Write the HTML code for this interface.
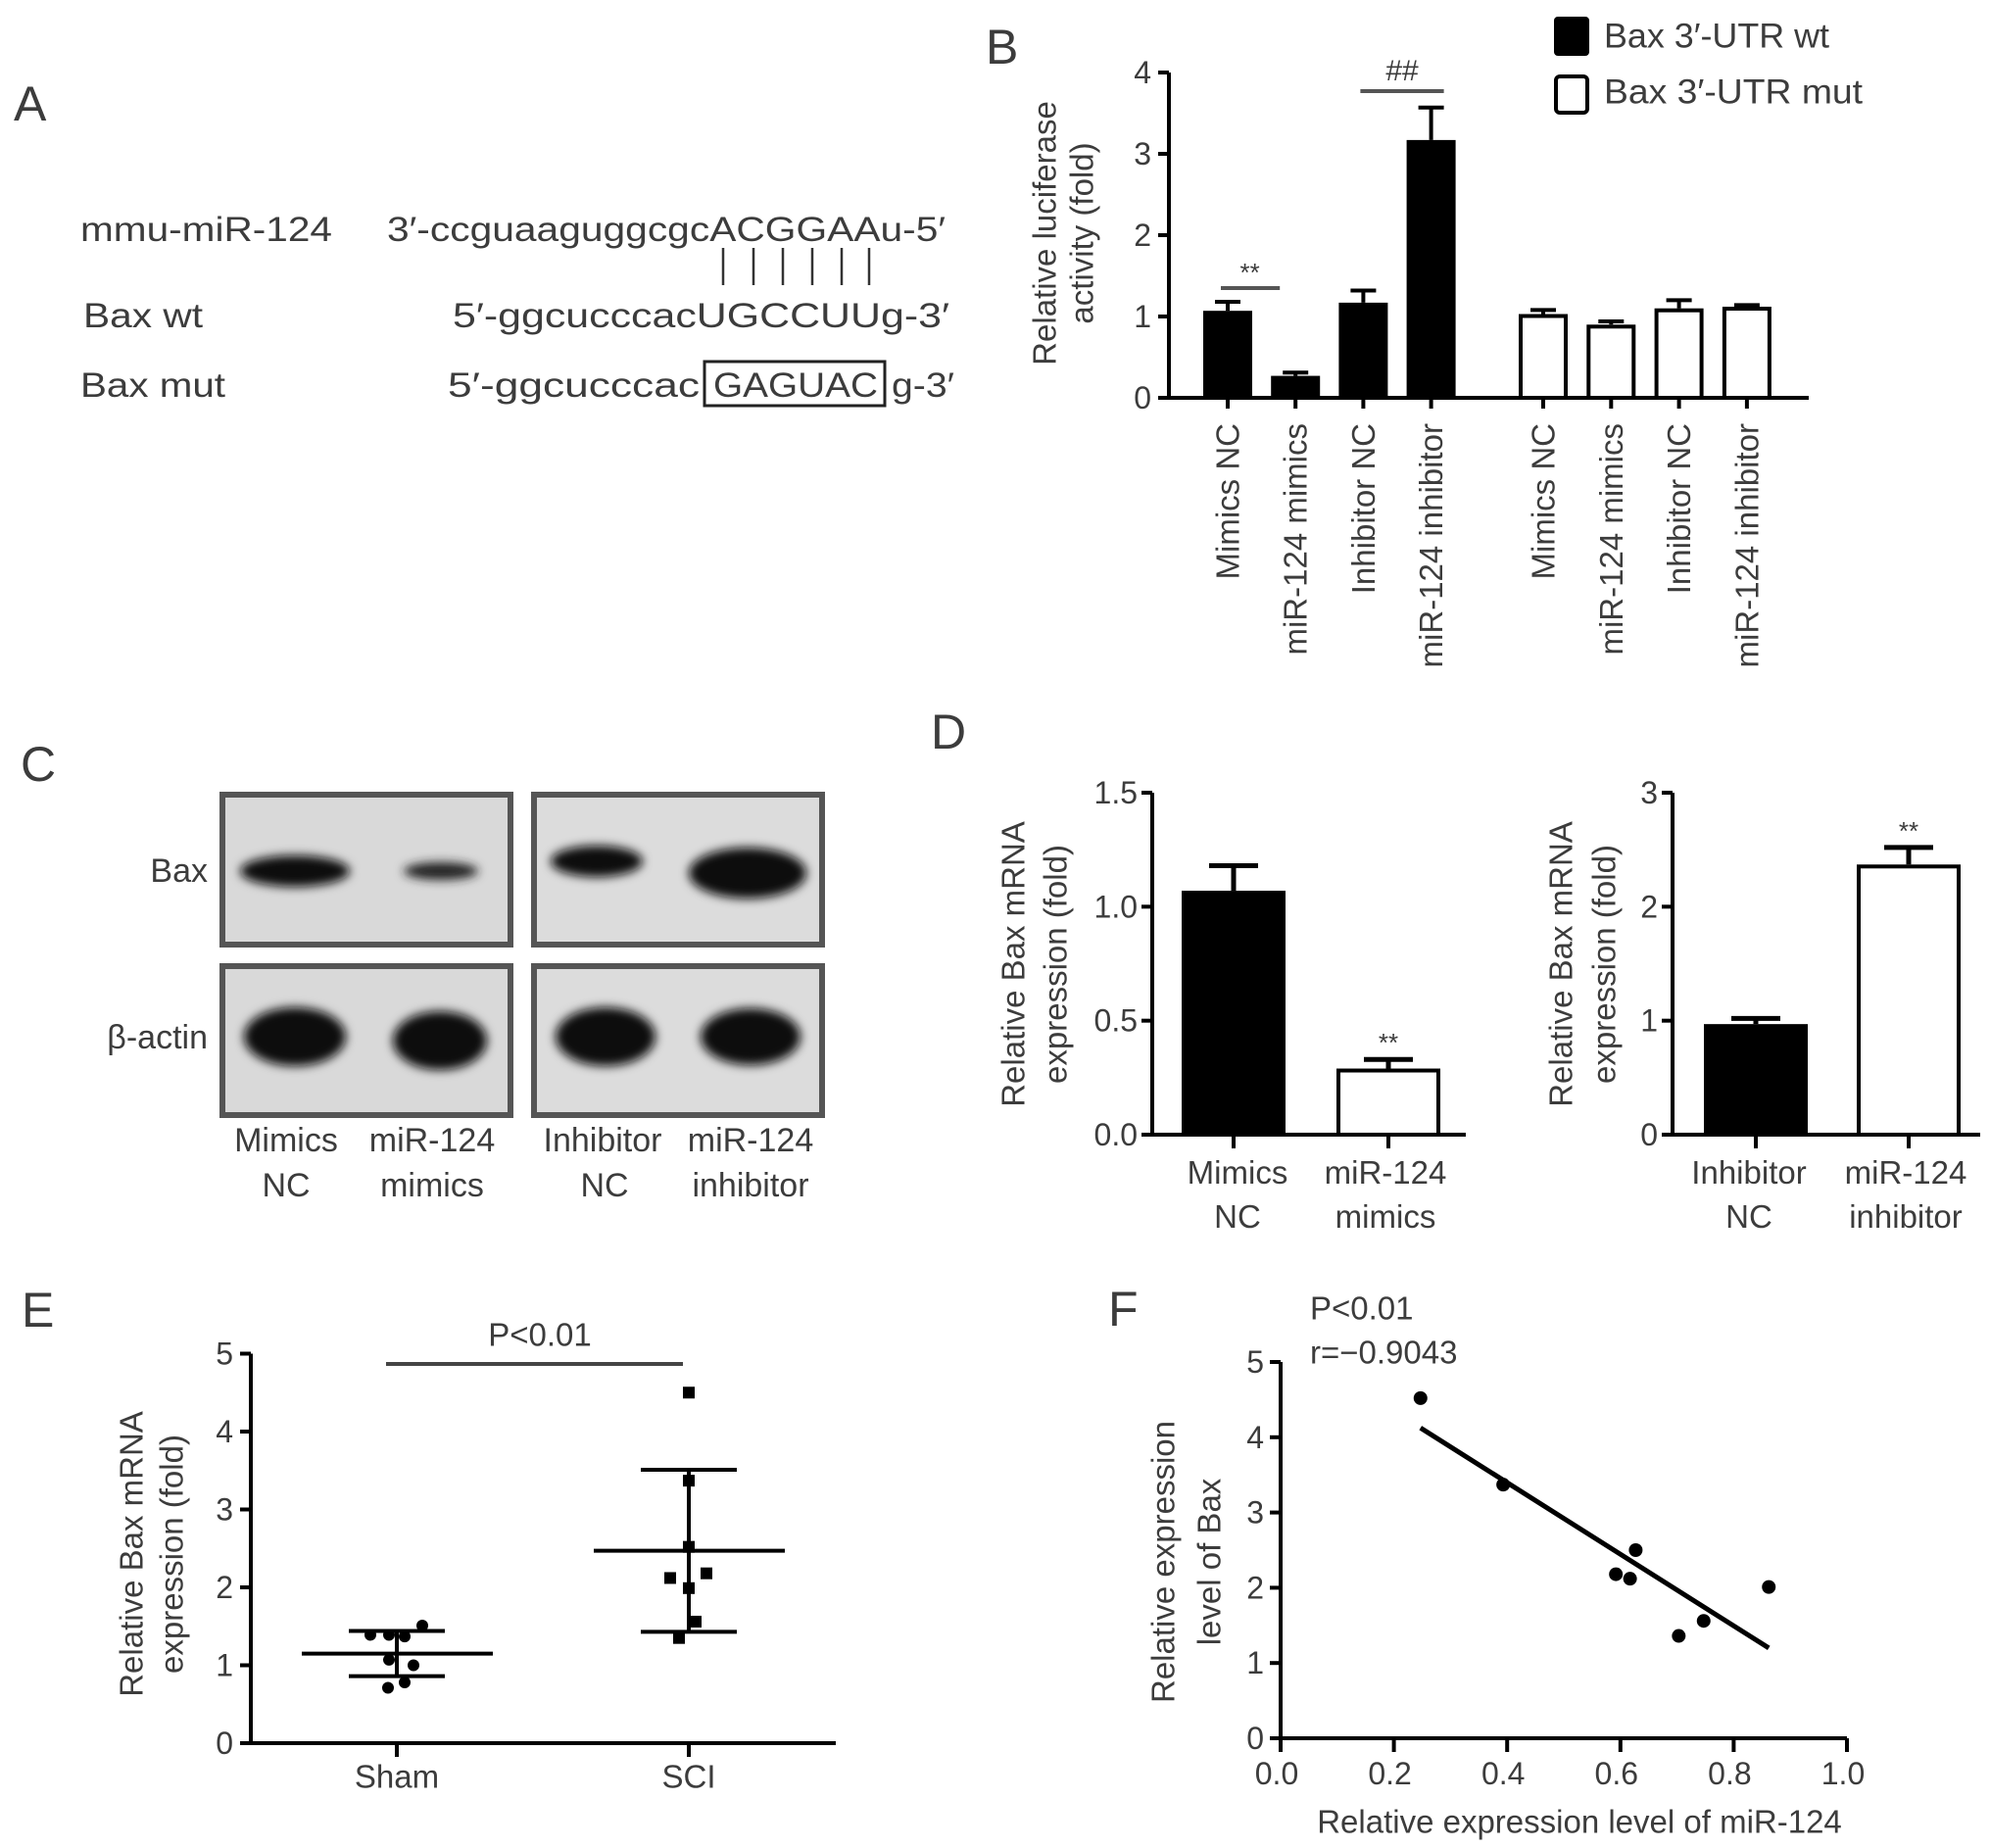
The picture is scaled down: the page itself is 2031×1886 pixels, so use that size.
<!DOCTYPE html>
<html><head><meta charset="utf-8"><style>
html,body{margin:0;padding:0;background:#fff;}
svg{display:block;font-family:"Liberation Sans",sans-serif;}
.t{fill:#3c3c3c;}
</style></head><body>
<svg id="fig" width="2031" height="1886" viewBox="0 0 2031 1886">
<defs>
<filter id="blur" x="-30%" y="-60%" width="160%" height="220%"><feGaussianBlur stdDeviation="5"/></filter>
</defs>
<!-- Panel A -->
<g>
<text class="t" x="14" y="123" font-size="50">A</text>
<text class="t" x="82" y="246" font-size="35" textLength="257" lengthAdjust="spacingAndGlyphs">mmu-miR-124</text>
<text class="t" x="395" y="246" font-size="35" textLength="570" lengthAdjust="spacingAndGlyphs">3′-ccguaaguggcgcACGGAAu-5′</text>
<g stroke="#333" stroke-width="2.5">
<line x1="738" y1="253" x2="738" y2="291"/><line x1="769" y1="253" x2="769" y2="291"/><line x1="799" y1="253" x2="799" y2="291"/><line x1="829" y1="253" x2="829" y2="291"/><line x1="859" y1="253" x2="859" y2="291"/><line x1="887" y1="253" x2="887" y2="291"/>
</g>
<text class="t" x="85" y="334" font-size="35" textLength="122" lengthAdjust="spacingAndGlyphs">Bax wt</text>
<text class="t" x="462" y="334" font-size="35" textLength="507" lengthAdjust="spacingAndGlyphs">5′-ggcucccacUGCCUUg-3′</text>
<text class="t" x="82" y="405" font-size="35" textLength="148" lengthAdjust="spacingAndGlyphs">Bax mut</text>
<text class="t" x="457" y="405" font-size="35" textLength="257" lengthAdjust="spacingAndGlyphs">5′-ggcucccac</text>
<rect x="719" y="369" width="184" height="45" fill="none" stroke="#222" stroke-width="3"/>
<text class="t" x="728" y="405" font-size="35" textLength="168" lengthAdjust="spacingAndGlyphs">GAGUAC</text>
<text class="t" x="910" y="405" font-size="35" textLength="64" lengthAdjust="spacingAndGlyphs">g-3′</text>
</g>
<text class="t" x="1006" y="65" font-size="50">B</text>
<g id="chartB"></g>
<!-- Panel C -->
<g>
<text class="t" x="21" y="797" font-size="50">C</text>
<text class="t" x="212" y="889" font-size="34" text-anchor="end" dominant-baseline="central">Bax</text>
<text class="t" x="212" y="1059" font-size="34" text-anchor="end" dominant-baseline="central">β-actin</text>
<g>
<rect x="227" y="811" width="294" height="153" fill="#d9d9d9" stroke="#555" stroke-width="6"/>
<ellipse cx="301" cy="889" rx="56" ry="16" fill="#111" filter="url(#blur)"/>
<ellipse cx="450" cy="889" rx="38" ry="9" fill="#222" filter="url(#blur)"/>
</g>
<g>
<rect x="545" y="811" width="294" height="153" fill="#dcdcdc" stroke="#555" stroke-width="6"/>
<ellipse cx="609" cy="879" rx="47" ry="16" fill="#111" filter="url(#blur)"/>
<ellipse cx="763" cy="891" rx="60" ry="26" fill="#0c0c0c" filter="url(#blur)"/>
</g>
<g>
<rect x="227" y="986" width="294" height="152" fill="#d9d9d9" stroke="#555" stroke-width="6"/>
<ellipse cx="301" cy="1058" rx="52" ry="30" fill="#0c0c0c" filter="url(#blur)"/>
<ellipse cx="449" cy="1062" rx="48" ry="30" fill="#0c0c0c" filter="url(#blur)"/>
</g>
<g>
<rect x="545" y="986" width="294" height="152" fill="#dcdcdc" stroke="#555" stroke-width="6"/>
<ellipse cx="618" cy="1058" rx="51" ry="30" fill="#0c0c0c" filter="url(#blur)"/>
<ellipse cx="766" cy="1058" rx="51" ry="29" fill="#0c0c0c" filter="url(#blur)"/>
</g>
<g font-size="34" text-anchor="middle" class="t">
<text x="292" y="1175">Mimics</text><text x="292" y="1221">NC</text>
<text x="441" y="1175">miR-124</text><text x="441" y="1221">mimics</text>
<text x="615" y="1175">Inhibitor</text><text x="617" y="1221">NC</text>
<text x="766" y="1175">miR-124</text><text x="766" y="1221">inhibitor</text>
</g>
</g>
<text class="t" x="950" y="764" font-size="50">D</text>
<g id="chartD1"></g>
<g id="chartD2"></g>
<text class="t" x="22" y="1354" font-size="50">E</text>
<g id="chartE"></g>
<text class="t" x="1131" y="1353" font-size="50">F</text>
<g id="chartF"></g>
</svg>
<script>
// ---- Panel B data ----
const bCategories = ["Mimics NC","miR-124 mimics","Inhibitor NC","miR-124 inhibitor"];
const bWtValues = [1.07, 0.27, 1.17, 3.17];
const bWtErrors = [0.11, 0.04, 0.15, 0.40];
const bMutValues = [1.03, 0.90, 1.10, 1.12];
const bMutErrors = [0.05, 0.04, 0.10, 0.02];
const bTicks = [0,1,2,3,4];
// ---- Panel D data ----
const d1Categories = [["Mimics","NC"],["miR-124","mimics"]];
const d1Values = [1.07, 0.29];
const d1Errors = [0.11, 0.04];
const d1Ticks = [0, 0.5, 1.0, 1.5];
const d2Categories = [["Inhibitor","NC"],["miR-124","inhibitor"]];
const d2Values = [0.97, 2.37];
const d2Errors = [0.05, 0.15];
const d2Ticks = [0, 1, 2, 3];
// ---- Panel E data ----
const eGroups = ["Sham","SCI"];
const eShamValues = [1.39, 1.39, 1.37, 1.51, 1.07, 1.00, 0.78, 0.71];
const eSciValues = [4.50, 3.37, 2.52, 2.12, 2.18, 1.99, 1.56, 1.35];
const eMeans = [1.15, 2.47];
const eSDs = [0.29, 1.04];
const eTicks = [0,1,2,3,4,5];
// ---- Panel F data ----
const fMirValues = [0.247, 0.393, 0.627, 0.592, 0.617, 0.862, 0.747, 0.703];
const fBaxValues = [4.52, 3.37, 2.50, 2.18, 2.12, 2.01, 1.56, 1.36];
const fXTicks = [0, 0.2, 0.4, 0.6, 0.8, 1.0];
const fYTicks = [0,1,2,3,4,5];

const NS = "http://www.w3.org/2000/svg";
function mk(parent, tag, attrs, txt){
  const e = document.createElementNS(NS, tag);
  for (const k in attrs) e.setAttribute(k, attrs[k]);
  if (txt !== undefined) e.textContent = txt;
  parent.appendChild(e);
  return e;
}
const TXT = "#3c3c3c";

// ===== Panel B =====
(function(){
  const g = document.getElementById('chartB');
  const x0 = 1193, xEnd = 1846, y0 = 406, yPer = 83;
  const y = v => y0 - v*yPer;
  const xWt = i => 1253 + i*69.2;
  const xMut = i => 1575 + i*69.3;
  const bw = 50;
  bTicks.forEach(t => {
    const tk = mk(g,'line',{x1:x0-11,x2:x0,y1:y(t),y2:y(t),stroke:'#000','stroke-width':4});
    
    
    const tl = mk(g,'text',{x:x0-18,y:y(t),'font-size':32,'text-anchor':'end','dominant-baseline':'central',fill:TXT},String(t));
    
    
  });
  const drawBar = (cx, v, err, filled, name) => {
    const eb = mk(g,'path',{d:`M${cx},${y(v)} V${y(v+err)} M${cx-13},${y(v+err)} H${cx+13}`,stroke:'#000','stroke-width':4,fill:'none'});
    
    
    const r = mk(g,'rect',{x:cx-bw/2+ (filled?0:2),y:y(v)+(filled?0:2),width:bw-(filled?0:4),height:v*yPer-(filled?0:2),fill:filled?'#000':'#fff',stroke:'#000','stroke-width':filled?0:4});
    
    
  };
  bWtValues.forEach((v,i)=>drawBar(xWt(i), v, bWtErrors[i], true, 'b-bar-wt-'+(i+1)));
  bMutValues.forEach((v,i)=>drawBar(xMut(i), v, bMutErrors[i], false, 'b-bar-mut-'+(i+1)));
  const ax = mk(g,'path',{d:`M${x0},${y(4)} V${y0} H${xEnd}`,stroke:'#000','stroke-width':4,fill:'none'});
  
  
  const allX = bCategories.map((c,i)=>xWt(i)).concat(bCategories.map((c,i)=>xMut(i)));
  const allC = bCategories.concat(bCategories);
  allX.forEach((cx,i)=>{
    const tk = mk(g,'line',{x1:cx,x2:cx,y1:y0,y2:y0+11,stroke:'#000','stroke-width':4});
    
    
    const t = mk(g,'text',{x:cx,y:432,'font-size':33,'text-anchor':'end','dominant-baseline':'central',fill:TXT,transform:`rotate(-90 ${cx} 432)`},allC[i]);
    
    
  });
  const yt1 = mk(g,'text',{x:1066,y:238,'font-size':33,'text-anchor':'middle','dominant-baseline':'central',fill:TXT,transform:'rotate(-90 1066 238)'},'Relative luciferase');
  
  
  const yt2 = mk(g,'text',{x:1104,y:238,'font-size':33,'text-anchor':'middle','dominant-baseline':'central',fill:TXT,transform:'rotate(-90 1104 238)'},'activity (fold)');
  
  
  // significance
  const s1 = mk(g,'line',{x1:xWt(0)-7,x2:xWt(1)-16,y1:294,y2:294,stroke:'#555','stroke-width':4});
  
  
  const s1t = mk(g,'text',{x:(xWt(0)+xWt(1))/2-12,y:287,'font-size':26,'text-anchor':'middle',fill:TXT},'**');
  
  
  const s2 = mk(g,'line',{x1:xWt(2)-3,x2:xWt(3)+13,y1:93,y2:93,stroke:'#555','stroke-width':4});
  
  
  const s2t = mk(g,'text',{x:(xWt(2)+xWt(3))/2+5,y:82,'font-size':30,'text-anchor':'middle',fill:TXT},'##');
  
  
  // legend
  const l1 = mk(g,'rect',{x:1586,y:17,width:36,height:40,rx:4,fill:'#000'});
  
  
  const l1t = mk(g,'text',{x:1637,y:37,'font-size':35,'dominant-baseline':'central',fill:TXT,textLength:230,lengthAdjust:'spacingAndGlyphs'},'Bax 3′-UTR wt');
  
  
  const l2 = mk(g,'rect',{x:1588,y:78,width:32,height:37,rx:4,fill:'#fff',stroke:'#000','stroke-width':4});
  
  
  const l2t = mk(g,'text',{x:1637,y:94,'font-size':35,'dominant-baseline':'central',fill:TXT,textLength:264,lengthAdjust:'spacingAndGlyphs'},'Bax 3′-UTR mut');
  
  
})();

// ===== Panel D =====
function drawD(gid, cats, vals, errs, ticks, cfg, prefix){
  const g = document.getElementById(gid);
  const y0 = 1158, yTop = 809, max = ticks[ticks.length-1];
  const y = v => y0 - v/max*(y0-yTop);
  ticks.forEach(t=>{
    const tk = mk(g,'line',{x1:cfg.ax-11,x2:cfg.ax,y1:y(t),y2:y(t),stroke:'#000','stroke-width':4});
    
    
    const tl = mk(g,'text',{x:cfg.ax-15,y:y(t),'font-size':32,'text-anchor':'end','dominant-baseline':'central',fill:TXT},cfg.fmt(t));
    
    
  });
  vals.forEach((v,i)=>{
    const cx = cfg.cx[i], bw = 106, filled = i===0;
    const eb = mk(g,'path',{d:`M${cx},${y(v)} V${y(v+errs[i])} M${cx-25},${y(v+errs[i])} H${cx+25}`,stroke:'#000','stroke-width':5,fill:'none'});
    
    
    const r = mk(g,'rect',{x:cx-bw/2+(filled?0:2),y:y(v)+(filled?0:2),width:bw-(filled?0:4),height:y0-y(v)-(filled?0:2),fill:filled?'#000':'#fff',stroke:'#000','stroke-width':filled?0:4});
    
    
    const tk = mk(g,'line',{x1:cx,x2:cx,y1:y0,y2:y0+14,stroke:'#000','stroke-width':4});
    
    
    cats[i].forEach((line,j)=>{
      const t = mk(g,'text',{x:cfg.lx[i],y:1208+j*45,'font-size':33,'text-anchor':'middle',fill:TXT},line);
      
      
    });
  });
  const ax = mk(g,'path',{d:`M${cfg.ax},${yTop} V${y0} H${cfg.xEnd}`,stroke:'#000','stroke-width':4,fill:'none'});
  
  
  const st = mk(g,'text',{x:cfg.cx[1],y:y(vals[1]+errs[1])-8,'font-size':26,'text-anchor':'middle',fill:TXT},'**');
  
  
  ['Relative Bax mRNA','expression  (fold)'].forEach((s,j)=>{
    const xx = cfg.tx[j];
    const t = mk(g,'text',{x:xx,y:984,'font-size':33,'text-anchor':'middle','dominant-baseline':'central',fill:TXT,transform:`rotate(-90 ${xx} 984)`,'xml:space':'preserve'},s);
    
    
  });
}
drawD('chartD1', d1Categories, d1Values, d1Errors, d1Ticks,
  {ax:1176, xEnd:1496, cx:[1259,1417], lx:[1263,1414], tx:[1034,1077], fmt:t=>t.toFixed(1)}, 'd1');
drawD('chartD2', d2Categories, d2Values, d2Errors, d2Ticks,
  {ax:1707, xEnd:2021, cx:[1792,1948], lx:[1785,1945], tx:[1593,1637], fmt:t=>String(t)}, 'd2');

// ===== Panel E =====
(function(){
  const g = document.getElementById('chartE');
  const x0 = 256, xEnd = 853, y0 = 1779, yPer = 79.5;
  const y = v => y0 - v*yPer;
  const gx = [405, 703];
  const shamJitter = [-27,-8,8,26,-8,17,8,-9];
  const sciJitter = [0,0,0,-19,18,0,7,-10];
  eTicks.forEach(t=>{
    const tk = mk(g,'line',{x1:x0-11,x2:x0,y1:y(t),y2:y(t),stroke:'#000','stroke-width':4});
    
    
    const tl = mk(g,'text',{x:x0-18,y:y(t),'font-size':32,'text-anchor':'end','dominant-baseline':'central',fill:TXT},String(t));
    
    
  });
  const ax = mk(g,'path',{d:`M${x0},${y(5)} V${y0} H${xEnd}`,stroke:'#000','stroke-width':4,fill:'none'});
  
  
  eGroups.forEach((name,i)=>{
    const cx = gx[i];
    const tk = mk(g,'line',{x1:cx,x2:cx,y1:y0,y2:y0+14,stroke:'#000','stroke-width':4});
    
    
    const t = mk(g,'text',{x:cx,y:1813,'font-size':33,'text-anchor':'middle','dominant-baseline':'central',fill:TXT},name);
    
    
  });
  eShamValues.forEach((v,i)=>{
    const c = mk(g,'circle',{cx:gx[0]+shamJitter[i],cy:y(v),r:6,fill:'#000'});
    
    
  });
  eSciValues.forEach((v,i)=>{
    const r = mk(g,'rect',{x:gx[1]+sciJitter[i]-6,y:y(v)-6,width:12,height:12,fill:'#000'});
    
    
  });
  eMeans.forEach((m,i)=>{
    const cx = gx[i];
    const p = mk(g,'path',{d:`M${cx-97},${y(m)} H${cx+98} M${cx},${y(m+eSDs[i])} V${y(m-eSDs[i])} M${cx-49},${y(m+eSDs[i])} H${cx+49} M${cx-49},${y(m-eSDs[i])} H${cx+49}`,stroke:'#000','stroke-width':4,fill:'none'});
    
    
  });
  const sl = mk(g,'line',{x1:394,x2:697,y1:1392,y2:1392,stroke:'#444','stroke-width':4});
  
  
  const stx = mk(g,'text',{x:551,y:1362,'font-size':33,'text-anchor':'middle','dominant-baseline':'central',fill:TXT},'P<0.01');
  
  
  ['Relative Bax mRNA','expression  (fold)'].forEach((s,j)=>{
    const xx = [134,175][j];
    const t = mk(g,'text',{x:xx,y:1586,'font-size':33,'text-anchor':'middle','dominant-baseline':'central',fill:TXT,transform:`rotate(-90 ${xx} 1586)`,'xml:space':'preserve'},s);
    
    
  });
})();

// ===== Panel F =====
(function(){
  const g = document.getElementById('chartF');
  const x0 = 1307, xPer = 578, y0 = 1774, yPer = 76.8;
  const x = v => x0 + v*xPer;
  const y = v => y0 - v*yPer;
  fYTicks.forEach(t=>{
    const tk = mk(g,'line',{x1:x0-11,x2:x0,y1:y(t),y2:y(t),stroke:'#000','stroke-width':4});
    
    
    const tl = mk(g,'text',{x:x0-17,y:y(t),'font-size':32,'text-anchor':'end','dominant-baseline':'central',fill:TXT},String(t));
    
    
  });
  fXTicks.forEach(t=>{
    const tk = mk(g,'line',{x1:x(t),x2:x(t),y1:y0,y2:y0+14,stroke:'#000','stroke-width':4});
    
    
    const tl = mk(g,'text',{x:x(t)-4,y:1810,'font-size':32,'text-anchor':'middle','dominant-baseline':'central',fill:TXT},t.toFixed(1));
    
    
  });
  const ax = mk(g,'path',{d:`M${x0},${y(5)} V${y0} H${x(1)}`,stroke:'#000','stroke-width':4,fill:'none'});
  
  
  // regression
  const n = fMirValues.length;
  const mx = fMirValues.reduce((a,b)=>a+b,0)/n, my = fBaxValues.reduce((a,b)=>a+b,0)/n;
  let sxy=0, sxx=0;
  for (let i=0;i<n;i++){ sxy += (fMirValues[i]-mx)*(fBaxValues[i]-my); sxx += (fMirValues[i]-mx)**2; }
  const slope = sxy/sxx, icpt = my - slope*mx;
  const xa = Math.min(...fMirValues), xb = Math.max(...fMirValues);
  const rl = mk(g,'line',{x1:x(xa),y1:y(icpt+slope*xa),x2:x(xb),y2:y(icpt+slope*xb),stroke:'#000','stroke-width':5});
  
  
  fMirValues.forEach((v,i)=>{
    const c = mk(g,'circle',{cx:x(v),cy:y(fBaxValues[i]),r:7,fill:'#000'});
    
    
  });
  const p = mk(g,'text',{x:1337,y:1335,'font-size':33,'dominant-baseline':'central',fill:TXT},'P<0.01');
  
  
  const r = mk(g,'text',{x:1337,y:1380,'font-size':33,'dominant-baseline':'central',fill:TXT},'r=−0.9043');
  
  
  const xt = mk(g,'text',{x:1612,y:1859,'font-size':33,'text-anchor':'middle','dominant-baseline':'central',fill:TXT},'Relative expression level of miR-124');
  
  
  ['Relative expression','level of Bax'].forEach((s,j)=>{
    const xx = [1187,1234][j];
    const t = mk(g,'text',{x:xx,y:1594,'font-size':33,'text-anchor':'middle','dominant-baseline':'central',fill:TXT,transform:`rotate(-90 ${xx} 1594)`},s);
    
    
  });
})();
</script>
</body></html>
